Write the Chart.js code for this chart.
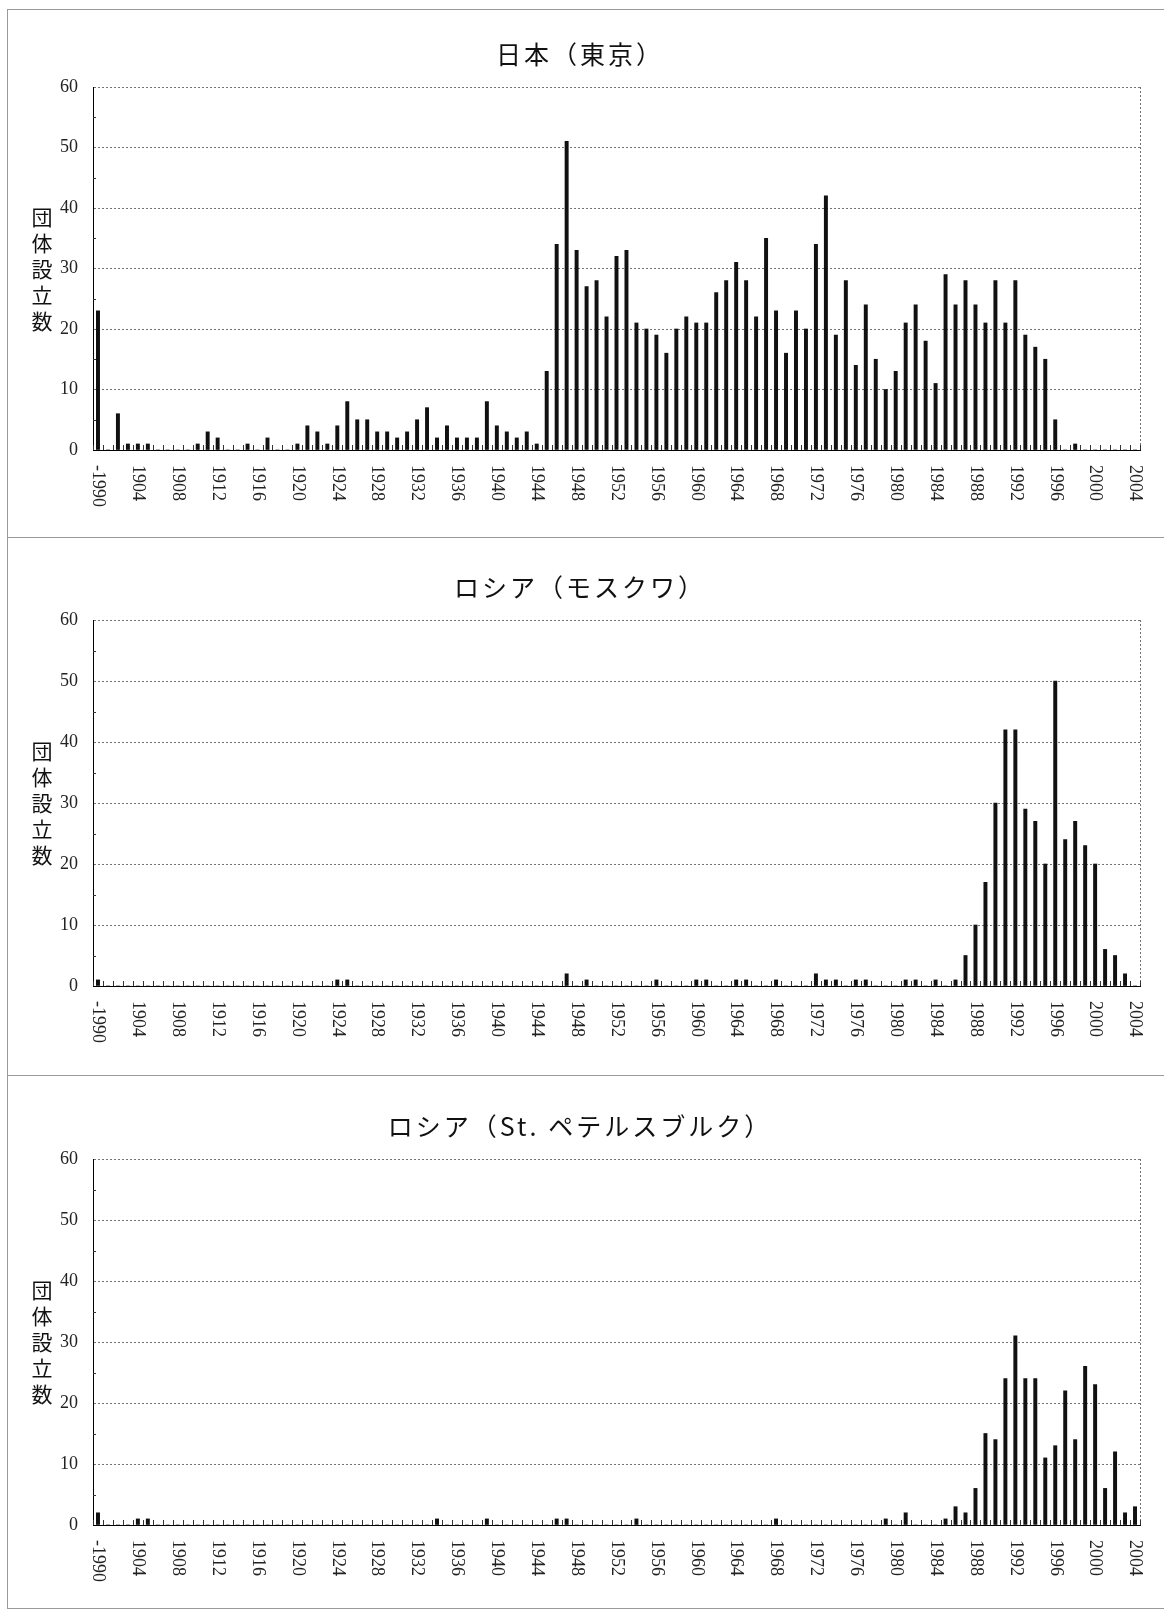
<!DOCTYPE html>
<html lang="ja">
<head>
<meta charset="utf-8">
<title>団体設立数</title>
<script src="https://cdn.jsdelivr.net/npm/chart.js@4.4.1/dist/chart.umd.min.js"></script>
<style>
  html, body { margin: 0; padding: 0; background: #fff; }
  body { width: 1164px; height: 1611px; position: relative; overflow: hidden; }
  .rule { position: absolute; background: #9a9a9a; }
  .panel { position: absolute; left: 7px; width: 1150px; }
  .panel canvas { position: absolute; left: 0; top: 0; }
  .title {
    position: absolute; left: 0; width: 1146px; height: 30px; line-height: 30px;
    text-align: center; color: #111; letter-spacing: 3px;
    font: 25px "Noto Sans CJK JP", sans-serif;
  }
  .ytitle {
    position: absolute; left: 24px; color: #111;
    writing-mode: vertical-rl; text-orientation: upright; letter-spacing: 5px;
    font: 21px "Noto Sans CJK JP", sans-serif; line-height: 21px;
  }
</style>
</head>
<body>
<script>
// categories (first label is printed as "-1990" in the source figure)
const years = [
  '-1990','1901','1902','1903','1904','1905','1906','1907','1908','1909',
  '1910','1911','1912','1913','1914','1915','1916','1917','1918','1919',
  '1920','1921','1922','1923','1924','1925','1926','1927','1928','1929',
  '1930','1931','1932','1933','1934','1935','1936','1937','1938','1939',
  '1940','1941','1942','1943','1944','1945','1946','1947','1948','1949',
  '1950','1951','1952','1953','1954','1955','1956','1957','1958','1959',
  '1960','1961','1962','1963','1964','1965','1966','1967','1968','1969',
  '1970','1971','1972','1973','1974','1975','1976','1977','1978','1979',
  '1980','1981','1982','1983','1984','1985','1986','1987','1988','1989',
  '1990','1991','1992','1993','1994','1995','1996','1997','1998','1999',
  '2000','2001','2002','2003','2004'
];

// labels printed under the axis
const tickYears = [
  '-1990','1904','1908','1912','1916','1920','1924','1928','1932','1936',
  '1940','1944','1948','1952','1956','1960','1964','1968','1972','1976',
  '1980','1984','1988','1992','1996','2000','2004'
];

const yTicks = [0, 10, 20, 30, 40, 50, 60];

const tokyo = [
  23, 0, 6, 1, 1, 1, 0, 0, 0, 0,
  1, 3, 2, 0, 0, 1, 0, 2, 0, 0,
  1, 4, 3, 1, 4, 8, 5, 5, 3, 3,
  2, 3, 5, 7, 2, 4, 2, 2, 2, 8,
  4, 3, 2, 3, 1, 13, 34, 51, 33, 27,
  28, 22, 32, 33, 21, 20, 19, 16, 20, 22,
  21, 21, 26, 28, 31, 28, 22, 35, 23, 16,
  23, 20, 34, 42, 19, 28, 14, 24, 15, 10,
  13, 21, 24, 18, 11, 29, 24, 28, 24, 21,
  28, 21, 28, 19, 17, 15, 5, 0, 1, 0,
  0, 0, 0, 0, 0
];

const moscow = [
  1, 0, 0, 0, 0, 0, 0, 0, 0, 0,
  0, 0, 0, 0, 0, 0, 0, 0, 0, 0,
  0, 0, 0, 0, 1, 1, 0, 0, 0, 0,
  0, 0, 0, 0, 0, 0, 0, 0, 0, 0,
  0, 0, 0, 0, 0, 0, 0, 2, 0, 1,
  0, 0, 0, 0, 0, 0, 1, 0, 0, 0,
  1, 1, 0, 0, 1, 1, 0, 0, 1, 0,
  0, 0, 2, 1, 1, 0, 1, 1, 0, 0,
  0, 1, 1, 0, 1, 0, 1, 5, 10, 17,
  30, 42, 42, 29, 27, 20, 50, 24, 27, 23,
  20, 6, 5, 2, 0
];

const stPetersburg = [
  2, 0, 0, 0, 1, 1, 0, 0, 0, 0,
  0, 0, 0, 0, 0, 0, 0, 0, 0, 0,
  0, 0, 0, 0, 0, 0, 0, 0, 0, 0,
  0, 0, 0, 0, 1, 0, 0, 0, 0, 1,
  0, 0, 0, 0, 0, 0, 1, 1, 0, 0,
  0, 0, 0, 0, 1, 0, 0, 0, 0, 0,
  0, 0, 0, 0, 0, 0, 0, 0, 1, 0,
  0, 0, 0, 0, 0, 0, 0, 0, 0, 1,
  0, 2, 0, 0, 0, 1, 3, 2, 6, 15,
  14, 24, 31, 24, 24, 11, 13, 22, 14, 26,
  23, 6, 12, 2, 3
];

const panelTitles = ['日本（東京）', 'ロシア（モスクワ）', 'ロシア（St. ペテルスブルク）'];
const yAxisTitle = '団体設立数';

// page geometry of each panel (px)
const panels = [
  { top: 9,    height: 528, plotTop: 87,   plotBottom: 450,  values: tokyo },
  { top: 538,  height: 537, plotTop: 620,  plotBottom: 986,  values: moscow },
  { top: 1076, height: 533, plotTop: 1159, plotBottom: 1525, values: stPetersburg }
];

const AXIS_W = 86;   // room for y tick labels
const AXIS_H = 60;   // room for rotated year labels
const RIGHT_PAD = 17;

// frame lines around / between the panels
function rule(x, y, w, h) {
  const d = document.createElement('div');
  d.className = 'rule';
  Object.assign(d.style, { left: x + 'px', top: y + 'px', width: w + 'px', height: h + 'px' });
  document.body.appendChild(d);
}
rule(7, 9, 1157, 1);
rule(7, 9, 1, 1600);
rule(7, 537, 1157, 1);
rule(7, 1075, 1157, 1);
rule(7, 1608, 1157, 1);

// year labels read top-to-bottom, inner tick marks, dotted right edge
const panelDecor = {
  id: 'panelDecor',
  afterDraw(chart) {
    const { ctx, chartArea: a, scales: { x, y } } = chart;
    const labels = chart.data.labels;
    const step = x.getPixelForValue(1) - x.getPixelForValue(0);
    ctx.save();

    ctx.strokeStyle = 'rgba(0,0,0,0.55)';
    ctx.lineWidth = 1;
    ctx.setLineDash([2, 2]);
    ctx.beginPath();
    ctx.moveTo(a.right + 0.5, a.top);
    ctx.lineTo(a.right + 0.5, a.bottom);
    ctx.stroke();
    ctx.setLineDash([]);

    ctx.strokeStyle = '#333';
    ctx.beginPath();
    for (let i = 0; i <= labels.length; i++) {
      const px = Math.round(x.getPixelForValue(0) - step / 2 + i * step) + 0.5;
      ctx.moveTo(px, a.bottom);
      ctx.lineTo(px, a.bottom - 5);
    }
    [5, 15, 25, 35, 45, 55].forEach(v => {
      const py = Math.round(y.getPixelForValue(v)) + 0.5;
      ctx.moveTo(a.left, py);
      ctx.lineTo(a.left + 3, py);
    });
    ctx.stroke();

    ctx.fillStyle = '#222';
    ctx.font = '18px "Liberation Serif", serif';
    ctx.textAlign = 'left';
    ctx.textBaseline = 'middle';
    tickYears.forEach(label => {
      const idx = labels.indexOf(label);
      if (idx < 0) return;
      ctx.save();
      ctx.translate(x.getPixelForValue(idx), a.bottom + 15);
      ctx.rotate(Math.PI / 2);
      ctx.fillText(label, 0, 0);
      ctx.restore();
    });
    ctx.restore();
  }
};

panels.forEach((p, i) => {
  const wrap = document.createElement('div');
  wrap.className = 'panel';
  wrap.style.top = p.top + 'px';
  wrap.style.height = p.height + 'px';

  const canvas = document.createElement('canvas');
  canvas.width = 1150;
  canvas.height = p.height;
  canvas.style.width = '1150px';
  canvas.style.height = p.height + 'px';
  wrap.appendChild(canvas);

  const title = document.createElement('div');
  title.className = 'title';
  title.textContent = panelTitles[i];
  title.style.top = (p.plotTop - p.top - 52) + 'px';
  wrap.appendChild(title);

  const yt = document.createElement('div');
  yt.className = 'ytitle';
  yt.textContent = yAxisTitle;
  yt.style.top = ((p.plotTop + p.plotBottom) / 2 + 3 - p.top - 65) + 'px';
  wrap.appendChild(yt);

  document.body.appendChild(wrap);

  const padTop = p.plotTop - p.top;
  const padBottom = p.height - (p.plotBottom - p.top) - AXIS_H;

  new Chart(canvas, {
    type: 'bar',
    data: {
      labels: years,
      datasets: [{
        data: p.values,
        backgroundColor: '#111',
        borderWidth: 0,
        barThickness: 3.3
      }]
    },
    options: {
      responsive: false,
      animation: false,
      devicePixelRatio: 1,
      layout: { padding: { top: padTop, bottom: padBottom, left: 0, right: RIGHT_PAD } },
      plugins: {
        legend: { display: false },
        tooltip: { enabled: false },
        title: { display: false }
      },
      scales: {
        x: {
          grid: { display: false },
          border: { display: true, color: '#000', width: 1 },
          ticks: { display: false },
          afterFit: s => { s.height = AXIS_H; }
        },
        y: {
          min: yTicks[0],
          max: yTicks[yTicks.length - 1],
          afterBuildTicks: s => { s.ticks = yTicks.map(v => ({ value: v })); },
          ticks: {
            padding: 15,
            color: '#222',
            font: { family: '"Liberation Serif", serif', size: 18 }
          },
          grid: { color: 'rgba(0,0,0,0.55)', lineWidth: 1, drawTicks: false },
          border: { display: true, color: '#000', width: 1, dash: [2, 2] },
          afterFit: s => { s.width = AXIS_W; }
        }
      }
    },
    plugins: [panelDecor]
  });
});
</script>
</body>
</html>
